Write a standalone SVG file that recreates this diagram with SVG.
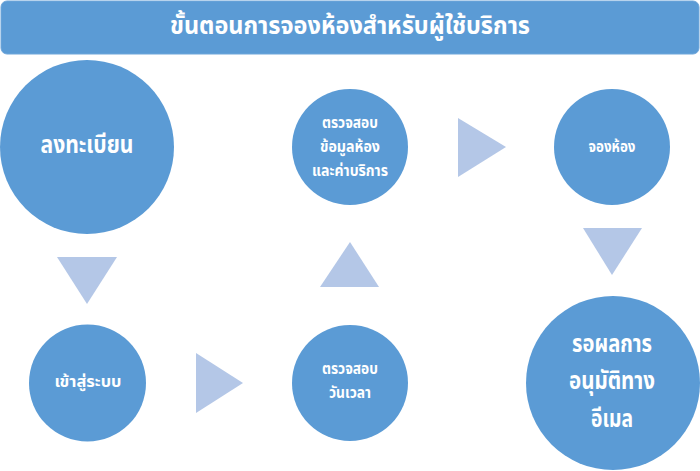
<svg xmlns="http://www.w3.org/2000/svg" width="700" height="471" viewBox="0 0 700 471">
<style>
.node{fill:#5b9bd5;}
.arr{fill:#b4c7e7;}
text{font-family:"Noto Sans Thai","Tahoma","DejaVu Sans","Noto Sans",sans-serif;fill:#ffffff;font-weight:bold;text-anchor:middle;}
.t{font-size:24px;}
.b{font-size:25px;}
.s{font-size:15px;}
</style>
<rect width="700" height="471" fill="#ffffff"/>
<g id="title">
<rect x="1" y="1" width="698" height="53" rx="6" ry="6" fill="#5b9bd5" stroke="#6fa6da" stroke-width="1"/>
<text class="t" x="350" y="34" textLength="360" lengthAdjust="spacingAndGlyphs">ขั้นตอนการจองห้องสำหรับผู้ใช้บริการ</text>
</g>
<g id="connectors">
<polygon class="arr" points="57,257 117,257 87,304"/>
<polygon class="arr" points="196,353 243,383 196,413"/>
<polygon class="arr" points="320,287 379,287 350,242"/>
<polygon class="arr" points="458,118 506,147 458,177"/>
<polygon class="arr" points="583,228 642,228 612,275"/>
</g>
<g id="n1">
<circle class="node" cx="87" cy="147" r="87"/>
<text class="b" x="87" y="153" textLength="93" lengthAdjust="spacingAndGlyphs">ลงทะเบียน</text>
</g>
<g id="n2">
<circle class="node" cx="87.5" cy="383" r="58.5"/>
<text class="s" x="88" y="387" textLength="67" lengthAdjust="spacingAndGlyphs">เข้าสู่ระบบ</text>
</g>
<g id="n3">
<circle class="node" cx="350" cy="383" r="58"/>
<text class="s" x="350" y="374" textLength="56" lengthAdjust="spacingAndGlyphs">ตรวจสอบ</text>
<text class="s" x="350" y="398" textLength="42" lengthAdjust="spacingAndGlyphs">วันเวลา</text>
</g>
<g id="n4">
<circle class="node" cx="350" cy="147" r="58"/>
<text class="s" x="350" y="128" textLength="56" lengthAdjust="spacingAndGlyphs">ตรวจสอบ</text>
<text class="s" x="350" y="152" textLength="60" lengthAdjust="spacingAndGlyphs">ข้อมูลห้อง</text>
<text class="s" x="350" y="176" textLength="76" lengthAdjust="spacingAndGlyphs">และค่าบริการ</text>
</g>
<g id="n5">
<circle class="node" cx="612" cy="147" r="58"/>
<text class="s" x="612" y="152" textLength="47" lengthAdjust="spacingAndGlyphs">จองห้อง</text>
</g>
<g id="n6">
<circle class="node" cx="613" cy="383" r="87"/>
<text class="b" x="612" y="352" textLength="80" lengthAdjust="spacingAndGlyphs">รอผลการ</text>
<text class="b" x="612" y="389" textLength="86" lengthAdjust="spacingAndGlyphs">อนุมัติทาง</text>
<text class="b" x="612" y="427" textLength="42" lengthAdjust="spacingAndGlyphs">อีเมล</text>
</g>
</svg>
